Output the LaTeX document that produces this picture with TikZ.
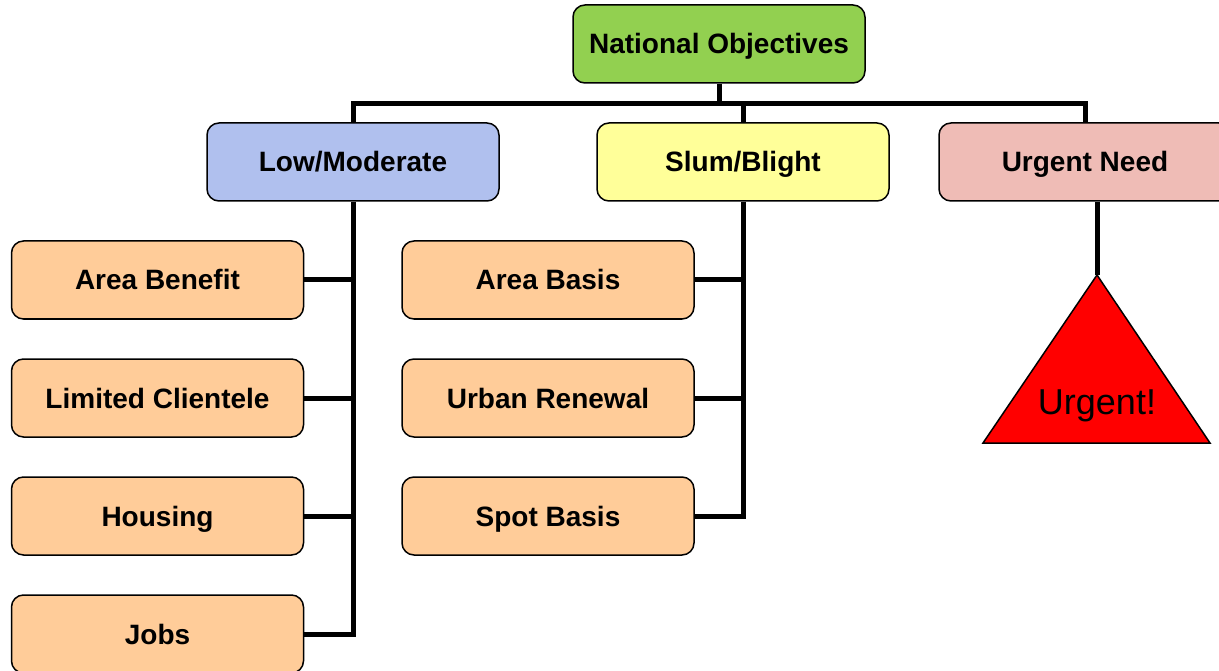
\documentclass[tikz,border=0pt]{standalone}
\usepackage{fontspec}
\setmainfont{Liberation Sans}
\definecolor{natgreen}{HTML}{92D050}
\definecolor{lowblue}{HTML}{B0C0EE}
\definecolor{slumyellow}{HTML}{FFFF99}
\definecolor{urgpink}{HTML}{EFBCB6}
\definecolor{leaforange}{HTML}{FFCC99}
\definecolor{urgred}{HTML}{FF0000}
\begin{document}
\begin{tikzpicture}[x=1pt,y=-1pt,
  box/.style={draw=black,line width=1.5pt,rounded corners=12pt,minimum width=292pt,minimum height=78pt,
    font=\fontsize{28}{32}\selectfont\bfseries,inner sep=0pt,text height=20pt,text depth=0pt},
  conn/.style={draw=black,line width=5pt,line join=miter}]
\useasboundingbox (0,0) rectangle (1219,671);
\clip (0,0) rectangle (1219,671);
\node[box,fill=natgreen] (nat) at (719,44) {National Objectives};
\node[box,fill=lowblue] (low) at (353,162) {Low/Moderate};
\node[box,fill=slumyellow] (slum) at (743,162) {Slum/Blight};
\node[box,fill=urgpink] (urg) at (1085,162) {Urgent Need};
\node[box,fill=leaforange] (a1) at (157.5,280) {Area Benefit};
\node[box,fill=leaforange] (a2) at (157.5,398) {Limited Clientele};
\node[box,fill=leaforange] (a3) at (157.5,516) {Housing};
\node[box,fill=leaforange] (a4) at (157.5,634) {Jobs};
\node[box,fill=leaforange] (b1) at (548,280) {Area Basis};
\node[box,fill=leaforange] (b2) at (548,398) {Urban Renewal};
\node[box,fill=leaforange] (b3) at (548,516) {Spot Basis};
\coordinate (bar) at (0,104);
\coordinate (tA) at (1097,275);
\coordinate (tB) at (983,443);
\coordinate (tC) at (1210,443);
\draw[fill=urgred,draw=black,line width=1.5pt,line join=miter] (tA) -- (tB) -- (tC) -- cycle;
\node[font=\fontsize{36}{40}\selectfont,inner sep=0pt,text height=26pt,text depth=0pt] (urgtxt) at (1097,401) {Urgent!};
% connectors
\draw[conn] (nat.south) -- (nat.south |- bar);
\draw[conn] (low.north) -- (low.north |- bar) -- (urg.north |- bar) -- (urg.north);
\draw[conn] (slum.north) -- (slum.north |- bar);
\draw[conn] (low.south) -- (low.south |- a4.east) -- (a4.east);
\draw[conn] (a1.east) -- (a1.east -| low.south);
\draw[conn] (a2.east) -- (a2.east -| low.south);
\draw[conn] (a3.east) -- (a3.east -| low.south);
\draw[conn] (slum.south) -- (slum.south |- b3.east) -- (b3.east);
\draw[conn] (b1.east) -- (b1.east -| slum.south);
\draw[conn] (b2.east) -- (b2.east -| slum.south);
\draw[conn] (urg.south -| tA) -- (tA);
\end{tikzpicture}
\end{document}
